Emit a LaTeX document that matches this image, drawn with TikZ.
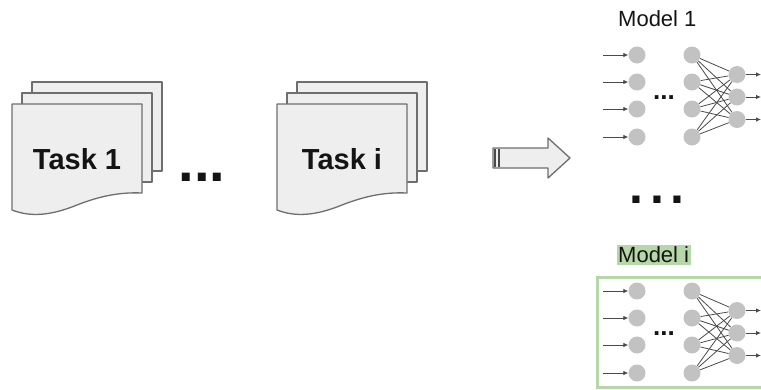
\documentclass[tikz,border=0pt]{standalone}
\usepackage{fontspec}
\setmainfont{Liberation Sans}
\usetikzlibrary{arrows.meta,calc}
\definecolor{sheet}{HTML}{EEEEEE}
\definecolor{rim}{HTML}{6E6E6E}
\definecolor{unit}{HTML}{C2C2C2}
\definecolor{wire}{HTML}{4A4A4A}
\definecolor{leaf}{HTML}{B6D7A8}
\definecolor{ink}{HTML}{141414}

\begin{document}
\begin{tikzpicture}[x=1pt,y=-1pt,
	sheetbox/.style={draw=rim,fill=sheet,line width=1.3pt,line join=round},
	neuron/.style={circle,fill=unit,minimum size=17pt,inner sep=0pt},
	wire/.style={draw=wire,line width=.8pt},
	feed/.style={wire,-{Latex[length=5pt,width=4.5pt]}},
	]
	\useasboundingbox (0,0) rectangle (761,389);
	% task stacks
	\foreach \t/\d/\s in {T1/0/1,Ti/265/i} {
		\draw[sheetbox] (32+\d,82) rectangle (162+\d,171);
		\draw[sheetbox] (22+\d,93) rectangle (152+\d,182);
		\draw[sheetbox] (12+\d,104) -- (142+\d,104) -- (142+\d,193) .. controls (120+\d,192) and (100+\d,196) .. (77+\d,205) .. controls (50+\d,216) and (30+\d,217) .. (12+\d,210) -- cycle;
		\node[text=ink,font=\bfseries\fontsize{29}{29}\selectfont] (\t) at (77+\d,159) {Task \s};
	}
	\node[text=ink,inner sep=0pt,font=\bfseries\fontsize{56}{56}\selectfont] (taskdots) at (202,177.5) {...};
	% big arrow
	\draw[sheetbox] (493,148) -- (548,148) -- (548,138) -- (570,158) -- (548,178) -- (548,168) -- (493,168) -- cycle;
	\foreach \x in {495,499} \draw[wire,line width=1.5pt] (\x,148.6) -- (\x,167.4);
	\node[text=ink,inner sep=0pt,font=\bfseries\fontsize{50}{50}\selectfont] (modeldots) at (657,200) {.\kern7pt.\kern7pt.};
	% models
	\node[text=ink,anchor=west,inner sep=0pt,font=\fontsize{22}{22}\selectfont] (lab1) at (618,19) {Model 1};
	\node[text=ink,anchor=west,fill=leaf,inner sep=1.5pt,font=\fontsize{22}{22}\selectfont] (labi) at (616.5,255) {Model i};
	\draw[leaf,line width=3pt] (597,277) rectangle (775,387);
	\foreach \m/\dy in {a/0,b/236} {
		\foreach \k/\y in {1/55,2/82,3/109,4/137} {
			\node[neuron] (\m-in\k) at (637,\y+\dy) {};
			\node[neuron] (\m-hid\k) at (692,\y+\dy) {};
			\coordinate (\m-src\k) at (603,\y+\dy);
			\draw[feed] (\m-src\k) -- (\m-in\k);
		}
		\foreach \k/\y in {1/74.5,2/97,3/119.5} {
			\node[neuron] (\m-out\k) at (737,\y+\dy) {};
			\coordinate (\m-snk\k) at (761,\y+\dy);
			\draw[feed] (\m-out\k) -- (\m-snk\k);
		}
		\foreach \i in {1,...,4} \foreach \j in {1,2,3} \draw[wire] (\m-hid\i) -- (\m-out\j);
		\node[text=ink,inner sep=0pt,font=\bfseries\fontsize{26}{26}\selectfont] (\m-dots) at (664,98+\dy) {...};
	}
\end{tikzpicture}
\end{document}
